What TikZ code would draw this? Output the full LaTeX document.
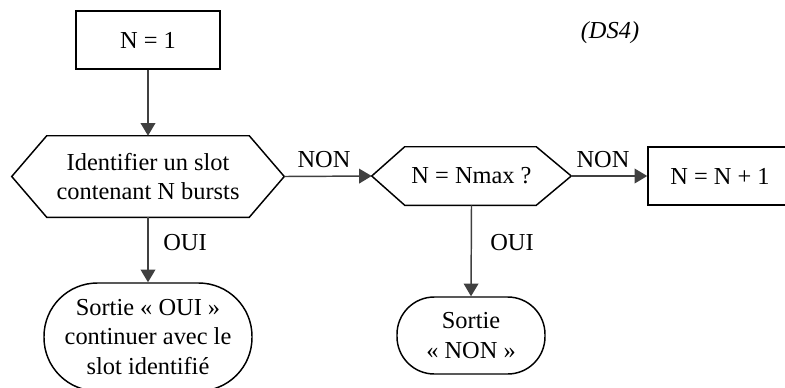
\documentclass[tikz,border=0pt]{standalone}
\usepackage{fontspec}
\setmainfont{Liberation Serif}
\usetikzlibrary{arrows.meta,calc}

\begin{document}
\begin{tikzpicture}[
  x=0.75pt, y=-0.75pt,
  txt/.style={font=\fontsize{18.3}{21.8}\selectfont, align=center, inner sep=0pt},
  boxnode/.style={txt, draw, line width=1.1pt, minimum width=108pt, minimum height=43.5pt},
  hexnode/.style={txt},
  termnode/.style={txt, draw, line width=1.1pt, rounded corners=#1},
  flow/.style={draw=black!75, line width=1.1pt, -{Triangle[length=9.5pt,width=11pt]}},
  lbl/.style={font=\fontsize{18.3}{21.8}\selectfont, inner sep=0pt}
]
\useasboundingbox (0,0) rectangle (785,387);
\clip (0,0) rectangle (785,387);

% process boxes
\node[boxnode] (start) at (148,40) {N = 1};
\node[boxnode] (incr) at (720,176) {N = N + 1};

% decision hexagons: invisible nodes carry the text and the anchors
\node[hexnode, minimum width=204pt, minimum height=60.75pt] (find) at (148,176.5)
  {Identifier un slot\\contenant N bursts};
\node[hexnode, minimum width=149.25pt, minimum height=43.5pt] (last) at (471.5,176)
  {N = Nmax ?};

\draw[line width=1.1pt, line join=miter]
  (find.west) -- ($(find.north west)+(35,0)$) -- ($(find.north east)+(-35,0)$)
  -- (find.east) -- ($(find.south east)+(-35,0)$) -- ($(find.south west)+(35,0)$) -- cycle;
\draw[line width=1.1pt, line join=miter]
  (last.west) -- ($(last.north west)+(33,0)$) -- ($(last.north east)+(-35,0)$)
  -- (last.east) -- ($(last.south east)+(-35,0)$) -- ($(last.south west)+(33,0)$) -- cycle;

% terminals
\node[termnode=40pt, minimum width=156pt, minimum height=81pt] (yes) at (148,337)
  {Sortie «~OUI~»\\continuer avec le\\slot identifié};
\node[termnode=28pt, minimum width=111pt, minimum height=57.75pt] (no) at (471,335.5)
  {Sortie\\«~NON~»};

% connectors
\draw[flow] (start) -- (find);
\draw[flow] (find.east) -- (last.west);
\draw[flow] (last.east) -- (incr.west);
\draw[flow] (find.south) -- (yes.north);
\draw[flow] (last.south) -- (no.north);

% branch labels
\node[lbl] (nonA) at (324,160) {NON};
\node[lbl] (nonB) at (603,160) {NON};
\node[lbl] (ouiA) at (185,243) {OUI};
\node[lbl] (ouiB) at (512,243) {OUI};

\node[lbl, font=\fontsize{18.3}{21.8}\selectfont\itshape] (tag) at (610,33) {(DS4)};
\end{tikzpicture}
\end{document}
